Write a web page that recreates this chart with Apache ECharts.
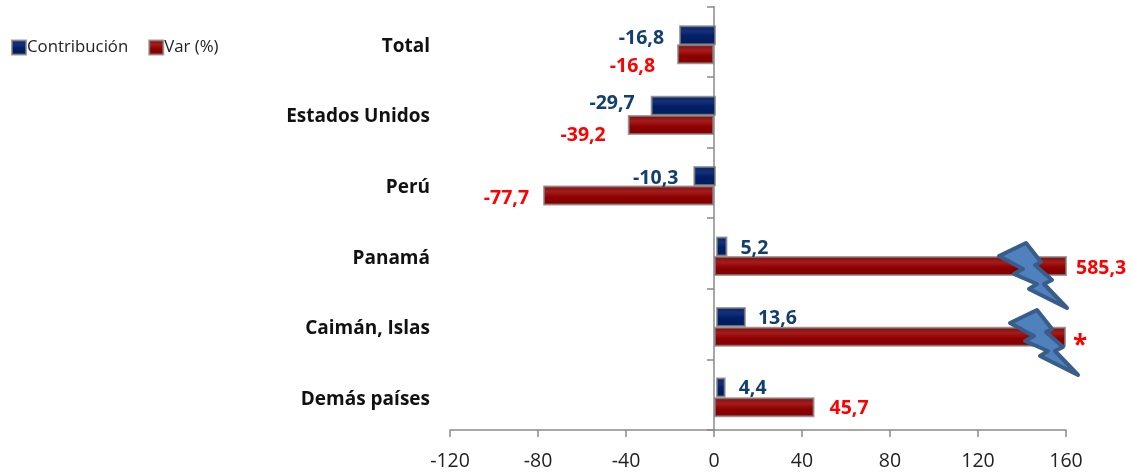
<!DOCTYPE html>
<html><head><meta charset="utf-8">
<style>html,body{margin:0;padding:0;background:#fff}#c{width:1133px;height:473px}</style>
<script src="https://cdn.jsdelivr.net/npm/echarts@6/dist/echarts.min.js"></script>
</head><body><div id="c"></div>
<script>
const categories = ['Total','Estados Unidos','Perú','Panamá','Caimán, Islas','Demás países'];
const contribucion = [-16.8,-29.7,-10.3,5.2,13.6,4.4];
const variacion = [-16.8,-39.2,-77.7,585.3,160,45.7];
const varLabels = ['-16,8','-39,2','-77,7','585,3','*','45,7'];
const tickValues = [-120,-80,-40,0,40,80,120,160];

const font = '"Open Sans", sans-serif';
const AX = '#8a8a8a';
const blueNudge = [[-15,3],[-16,-2],[-15,2],[13,2],[12,1],[13,1]];
const redNudge = [[-22,12],[-22,11],[-14,3],[9,2],[7,10],[15,1]];

const blueFill = {type:'linear',x:0,y:0,x2:0,y2:1,colorStops:[
  {offset:0,color:'#0a2260'},{offset:.3,color:'#14307a'},{offset:.55,color:'#001f66'},{offset:1,color:'#001c5c'}]};
const redFill = {type:'linear',x:0,y:0,x2:0,y2:1,colorStops:[
  {offset:0,color:'#7d0a0a'},{offset:.3,color:'#a41c1c'},{offset:.6,color:'#8b0000'},{offset:1,color:'#860000'}]};
const barStyle = f => ({color:f,borderColor:'rgba(130,130,130,0.75)',borderWidth:2});

const yBase = {type:'category',data:categories,inverse:true};
const hiddenX = g => ({gridIndex:g,type:'value',min:-120,max:160,interval:40,show:false});
const hiddenY = g => Object.assign({gridIndex:g,show:false},yBase);
const fmt = v => String(v).replace('.',',');

const mk = (vals,lbls,nudge,col) => vals.map((v,i)=>({
  value:v,
  label:{
    show:true,
    position:v<0?'left':'right',
    distance:0,
    offset:nudge[i],
    formatter:lbls[i],
    color:col,
    fontFamily:font,
    fontWeight:'bold',
    fontSize:lbls[i]==='*'?26:19.5
  }
}));

const bolt = [[999,256],[1026,243],[1041,262],[1035,265],[1052,280],[1044,284],[1067,308],[1029,289],[1037,284],[1014,274],[1023,269]];
const boltG = (dx,dy)=>({type:'polygon',x:dx,y:dy,z:100,shape:{points:bolt},
  style:{fill:'#4f81bd',stroke:'#385d8a',lineWidth:4,lineJoin:'round'}});

const option = {
  animation:false,
  backgroundColor:'#fff',
  textStyle:{fontFamily:font},
  legend:{
    left:6,top:34,itemWidth:14,itemHeight:14,itemGap:20,
    icon:'rect',
    textStyle:{fontFamily:font,fontSize:16.8,color:'#222',padding:[0,0,0,-4]},
    data:['Contribución','Var (%)']
  },
  grid:[
    {left:450,width:616,top:6.4,height:423.6},
    {left:452,width:616,top:-1,height:423.6},
    {left:450,width:616,top:19,height:423.6},
    {left:450,width:616,top:11,height:423.6}
  ],
  xAxis:[
    {gridIndex:0,type:'value',min:-120,max:160,interval:40,position:'bottom',
     splitLine:{show:false},
     axisLine:{show:true,onZero:false,lineStyle:{color:AX,width:1.5}},
     axisTick:{show:true,length:7,lineStyle:{color:AX,width:1.5}},
     axisLabel:{margin:21,color:'#222',fontFamily:font,fontSize:19.5,
       customValues:tickValues}},
    hiddenX(1),hiddenX(2),hiddenX(3)
  ],
  yAxis:[
    Object.assign({gridIndex:3,position:'left',
      axisLine:{show:false},axisTick:{show:false},
      axisLabel:{margin:20,color:'#111',fontFamily:font,fontWeight:'bold',fontSize:19}},yBase),
    Object.assign({gridIndex:0,position:'left',offset:-264,
      axisLine:{show:true,onZero:false,lineStyle:{color:AX,width:1.5}},
      axisTick:{show:true,length:7,lineStyle:{color:AX,width:1.5}},
      axisLabel:{show:false}},yBase),
    hiddenY(1),hiddenY(2)
  ],
  series:[
    {name:'Var (%)',type:'bar',xAxisIndex:2,yAxisIndex:3,barWidth:20,z:3,
     itemStyle:barStyle(redFill),
     data:mk(variacion,varLabels,redNudge,'#ff0000')},
    {name:'Contribución',type:'bar',xAxisIndex:1,yAxisIndex:2,barWidth:20,z:3,
     itemStyle:barStyle(blueFill),
     data:mk(contribucion,contribucion.map(fmt),blueNudge,'#123f70')}
  ],
  graphic:[boltG(0,0),boltG(11,67)]
};
const chart = echarts.init(document.getElementById('c'),null,{renderer:'canvas'});
chart.setOption(option);
</script></body></html>
